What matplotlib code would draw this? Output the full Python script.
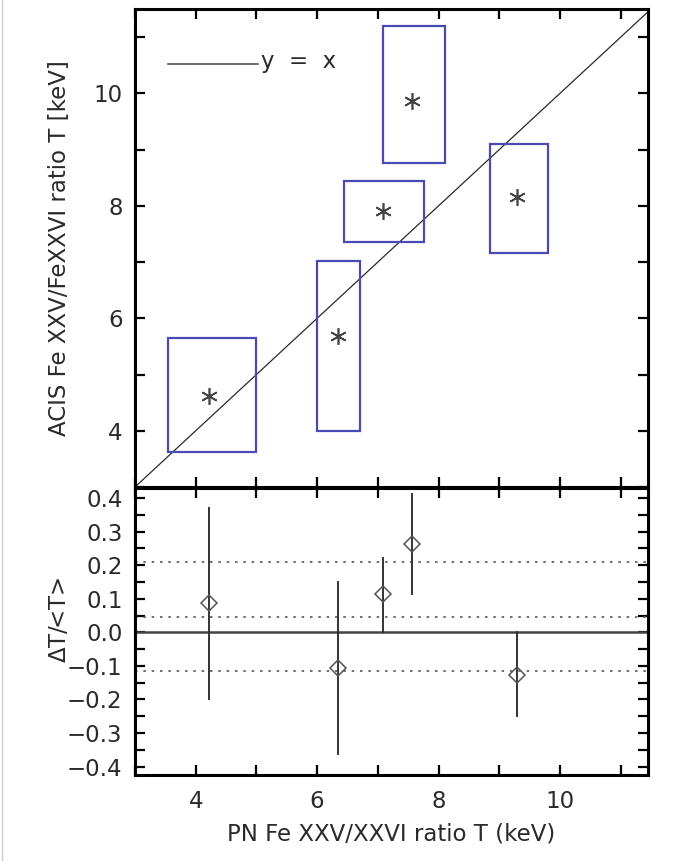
import matplotlib
matplotlib.use("Agg")
import matplotlib.pyplot as plt
import matplotlib.patches as patches
from matplotlib.lines import Line2D
from matplotlib.ticker import MultipleLocator, FuncFormatter

# PN vs ACIS Fe XXV/XXVI ratio temperatures (keV)
pn_t = [4.22, 6.34, 7.08, 7.56, 9.29]
pn_lo = [3.54, 6.00, 6.45, 7.08, 8.84]
pn_hi = [5.00, 6.71, 7.76, 8.10, 9.80]
acis_t = [4.62, 5.68, 7.91, 9.87, 8.16]
acis_lo = [3.62, 3.99, 7.36, 8.77, 7.16]
acis_hi = [5.65, 7.02, 8.44, 11.20, 9.10]

# fractional difference dT/<T>
dt = [0.086, -0.105, 0.113, 0.264, -0.126]
dt_lo = [-0.199, -0.361, 0.0, 0.113, -0.248]
dt_hi = [0.369, 0.149, 0.221, 0.411, 0.0]
dt_levels = [0.211, 0.046, -0.115]

ink = '#2a2a2a'
blue = '#4a4ab4'
fs = 16.5

fig = plt.figure(figsize=(6.73, 8.61), dpi=100)
ax = fig.add_axes([135/673, 1-487/861, 513/673, 478/861])
ax2 = fig.add_axes([135/673, 1-775/861, 513/673, 287/861], sharex=ax)

xr = (3.0, 11.45)
ax.set_xlim(*xr)
ax.set_ylim(3.0, 11.5)

# y = x line
ax.plot([3, 11.5], [3, 11.5], color=ink, lw=0.9)

# error boxes
for i in range(len(pn_t)):
    rec = patches.Rectangle((pn_lo[i], acis_lo[i]), pn_hi[i]-pn_lo[i], acis_hi[i]-acis_lo[i],
                            facecolor='none', edgecolor=blue, lw=1.6, zorder=3)
    ax.add_patch(rec)
ax.plot(pn_t, acis_t, linestyle='none', marker=(6, 2, 0), markersize=12,
        color='#444444', mew=1.2, zorder=4)

# legend drawn by hand
ax.add_artist(Line2D([0.064, 0.24], [0.885, 0.885], transform=ax.transAxes, color='#555555', lw=1.2))
ax.text(0.245, 0.89, 'y  =  x', transform=ax.transAxes, fontsize=fs, color=ink, va='center', ha='left')

ax.set_ylabel('ACIS Fe XXV/FeXXVI ratio T [keV]', fontsize=fs, color=ink)
ax.yaxis.set_label_coords(-0.125, 0.5)
ax.yaxis.set_major_locator(MultipleLocator(2))
ax.yaxis.set_minor_locator(MultipleLocator(1))
ax.xaxis.set_major_locator(MultipleLocator(2))
ax.xaxis.set_minor_locator(MultipleLocator(1))
ax.tick_params(axis='x', labelbottom=False)

# bottom panel
ax2.set_ylim(-0.425, 0.43)
ax2.axhline(0.0, color='#444444', lw=1.8)
for lev in dt_levels:
    ax2.axhline(lev, color='#555555', lw=1.2, linestyle=(0, (1.5, 3.5)))
for i in range(len(pn_t)):
    ax2.plot([pn_t[i], pn_t[i]], [dt_lo[i], dt_hi[i]], color='#333333', lw=1.4)
ax2.plot(pn_t, dt, linestyle='none', marker='D', markersize=8, mfc='none',
         mec='#555555', mew=1.1, zorder=4)
ax2.yaxis.set_major_locator(MultipleLocator(0.1))
ax2.yaxis.set_minor_locator(MultipleLocator(0.05))
ax2.yaxis.set_major_formatter(FuncFormatter(lambda v, p: ('%.1f' % v).replace('-', '\u2212')
                                            if abs(v) > 1e-9 else '0.0'))
ax2.set_ylabel(r'$\Delta$T/<T>', fontsize=fs, color=ink)
ax2.yaxis.set_label_coords(-0.125, 0.54)
ax2.set_xlabel('PN Fe XXV/XXVI ratio T (keV)', fontsize=fs, color=ink)
ax2.xaxis.set_label_coords(0.5, -0.165)
ax2.set_xlim(*xr)

for a in (ax, ax2):
    for s in a.spines.values():
        s.set_linewidth(2.2)
        s.set_color('black')
    a.tick_params(which='both', direction='in', top=True, right=True, width=1.6,
                  labelsize=fs, labelcolor=ink, length=7.5)
    a.tick_params(axis='y', which='both', pad=9)
    a.tick_params(axis='x', which='both', pad=11)

# faint frame line at left edge
fig.add_artist(Line2D([0.003, 0.003], [0, 1], transform=fig.transFigure, color='#cccccc', lw=1))

fig.savefig('out.png', dpi=100)
